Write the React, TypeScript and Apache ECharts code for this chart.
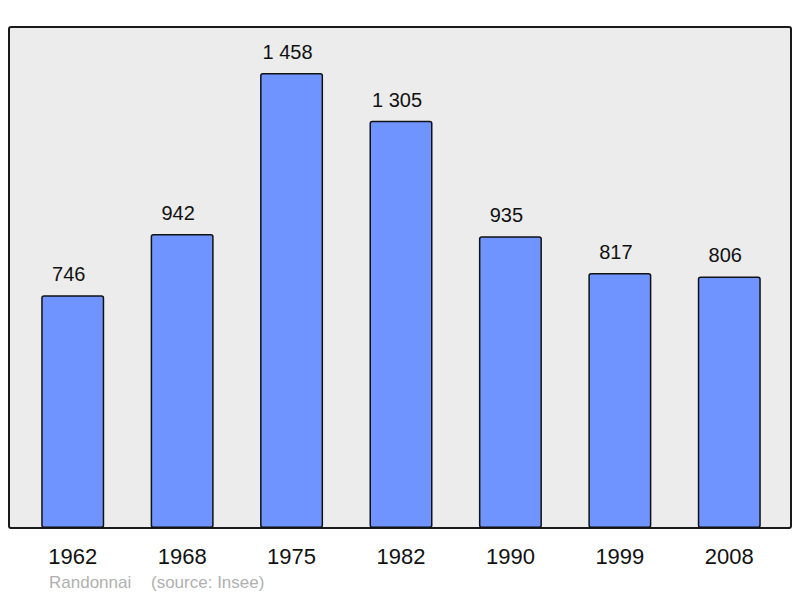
import React, { useEffect, useRef } from "react";
import * as echarts from "echarts";

const years = ["1962", "1968", "1975", "1982", "1990", "1999", "2008"];
const population = [746, 942, 1458, 1305, 935, 817, 806];
const footerName = "Randonnai";
const footerSource = "(source: Insee)";

const fmt = (v: number) => {
  const s = String(v);
  return s.length > 3 ? s.slice(0, s.length - 3) + " " + s.slice(-3) : s;
};

export default function App() {
  const ref = useRef<HTMLDivElement>(null);
  useEffect(() => {
    const chart = echarts.init(ref.current!, null, { renderer: "svg" });
    chart.setOption({
      animation: false,
      textStyle: { fontFamily: "Liberation Sans, Arial, sans-serif" },
      graphic: [
        {
          type: "rect",
          z: -10,
          shape: { x: 9, y: 27, width: 782, height: 501, r: 2 },
          style: { fill: "#ececec", stroke: "#1a1a1a", lineWidth: 2 },
        },
        {
          type: "text",
          x: 49,
          y: 574,
          style: { text: footerName, fill: "#b0b0b0", fontSize: 17, fontFamily: "Liberation Sans, Arial, sans-serif" },
        },
        {
          type: "text",
          x: 151,
          y: 574,
          style: { text: footerSource, fill: "#b0b0b0", fontSize: 17, fontFamily: "Liberation Sans, Arial, sans-serif" },
        },
      ],
      grid: { left: 18, right: 16, top: 27, bottom: 70, containLabel: false },
      xAxis: {
        type: "category",
        data: years,
        axisLine: { show: false },
        axisTick: { show: false },
        axisLabel: { color: "#111", fontSize: 22, margin: 17 },
      },
      yAxis: {
        type: "value",
        min: 0,
        max: 1605,
        show: false,
        splitLine: { show: false },
      },
      series: [
        {
          type: "bar",
          data: population,
          barWidth: 63,
          itemStyle: { color: "#7094ff", borderColor: "#111", borderWidth: 1.5, borderRadius: 2 },
          label: {
            show: true,
            position: "top",
            distance: 11,
            offset: [-4, 0],
            fontSize: 20,
            color: "#111",
            formatter: (p: any) => fmt(p.value),
          },
        },
      ],
    });
    return () => chart.dispose();
  }, []);
  return <div ref={ref} style={{ width: 800, height: 598, position: "absolute", left: 0, top: 0 }} />;
}
